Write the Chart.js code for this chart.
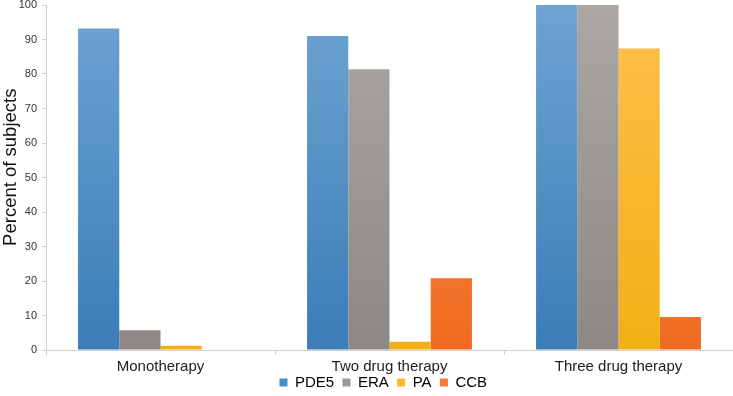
<!DOCTYPE html>
<html><head><meta charset="utf-8">
<script src="https://cdn.jsdelivr.net/npm/chart.js@4"></script>
<style>html,body{margin:0;padding:0;background:#fff}#wrap{width:733px;height:396px}</style>
</head><body><div id="wrap"><canvas id="c" width="733" height="396"></canvas></div>
<script>
const categories = ["Monotherapy", "Two drug therapy", "Three drug therapy"];
const seriesNames = ["PDE5", "ERA", "PA", "CCB"];
const pde5 = [93.2, 91.0, 100];
const era = [5.7, 81.4, 100];
const pa = [1.2, 2.4, 87.4];
const ccb = [0, 20.8, 9.6];
const yTicks = [0, 10, 20, 30, 40, 50, 60, 70, 80, 90, 100];

const palettes = [
  ["#6ea3d2", "#3a7db7"],
  ["#aca7a4", "#8e8884"],
  ["#ffbf4c", "#f2b014"],
  ["#fb9458", "#f06a1e"]
];
function grad(i) {
  return function(ctx) {
    const ch = ctx.chart; const a = ch.chartArea;
    if (!a) return palettes[i][1];
    const g = ch.ctx.createLinearGradient(0, a.top, 0, a.bottom);
    g.addColorStop(0, palettes[i][0]); g.addColorStop(1, palettes[i][1]);
    return g;
  };
}
const legendColors = ["#4a8cc4", "#9d9894", "#f8b82a", "#f47c38"];
const values = [pde5, era, pa, ccb];
Chart.defaults.font.family = "'Liberation Sans', Arial, sans-serif";
new Chart(document.getElementById("c"), {
  type: "bar",
  data: {
    labels: categories,
    datasets: seriesNames.map((n, i) => ({
      label: n, data: values[i], backgroundColor: grad(i), borderWidth: 0,
      categoryPercentage: 0.72, barPercentage: 1.0
    }))
  },
  options: {
    responsive: false, animation: false,
    layout: { padding: { top: 0, right: 0, left: 0, bottom: -4 } },
    plugins: {
      tooltip: { enabled: false },
      legend: {
        position: "bottom", fullSize: false,
        labels: {
          color: "#222", font: { size: 15 }, boxWidth: 8, boxHeight: 8, padding: 0,
          generateLabels: (chart) => seriesNames.map((n, i) => ({
            text: i < seriesNames.length - 1 ? n + "  " : n + "   ",
            fillStyle: legendColors[i], strokeStyle: legendColors[i], lineWidth: 0, datasetIndex: i
          }))
        }
      }
    },
    scales: {
      x: {
        afterFit: (s) => { s.height -= 4; s._computeLabelArea = () => null; },
        grid: { display: true, offset: true, drawOnChartArea: false, drawTicks: true, tickLength: 5, color: "#d0d0d0" },
        border: { display: true, color: "#d0d0d0" },
        ticks: { color: "#222", font: { size: 15, lineHeight: 1 }, padding: 4.5 }
      },
      y: {
        min: 0, max: 100,
        afterBuildTicks: (s) => { s.ticks = yTicks.map(v => ({ value: v })); },
        afterFit: (s) => { s.width = 46; s.paddingTop = 5; },
        grid: { display: true, drawOnChartArea: false, drawTicks: true, tickLength: 4, color: "#d0d0d0" },
        border: { display: true, color: "#d0d0d0" },
        ticks: { color: "#333", font: { size: 11 }, padding: 5 },
        title: { display: true, text: "    Percent of subjects", color: "#111", font: { size: 18.5 }, padding: 0 }
      }
    }
  }
});
</script></body></html>
